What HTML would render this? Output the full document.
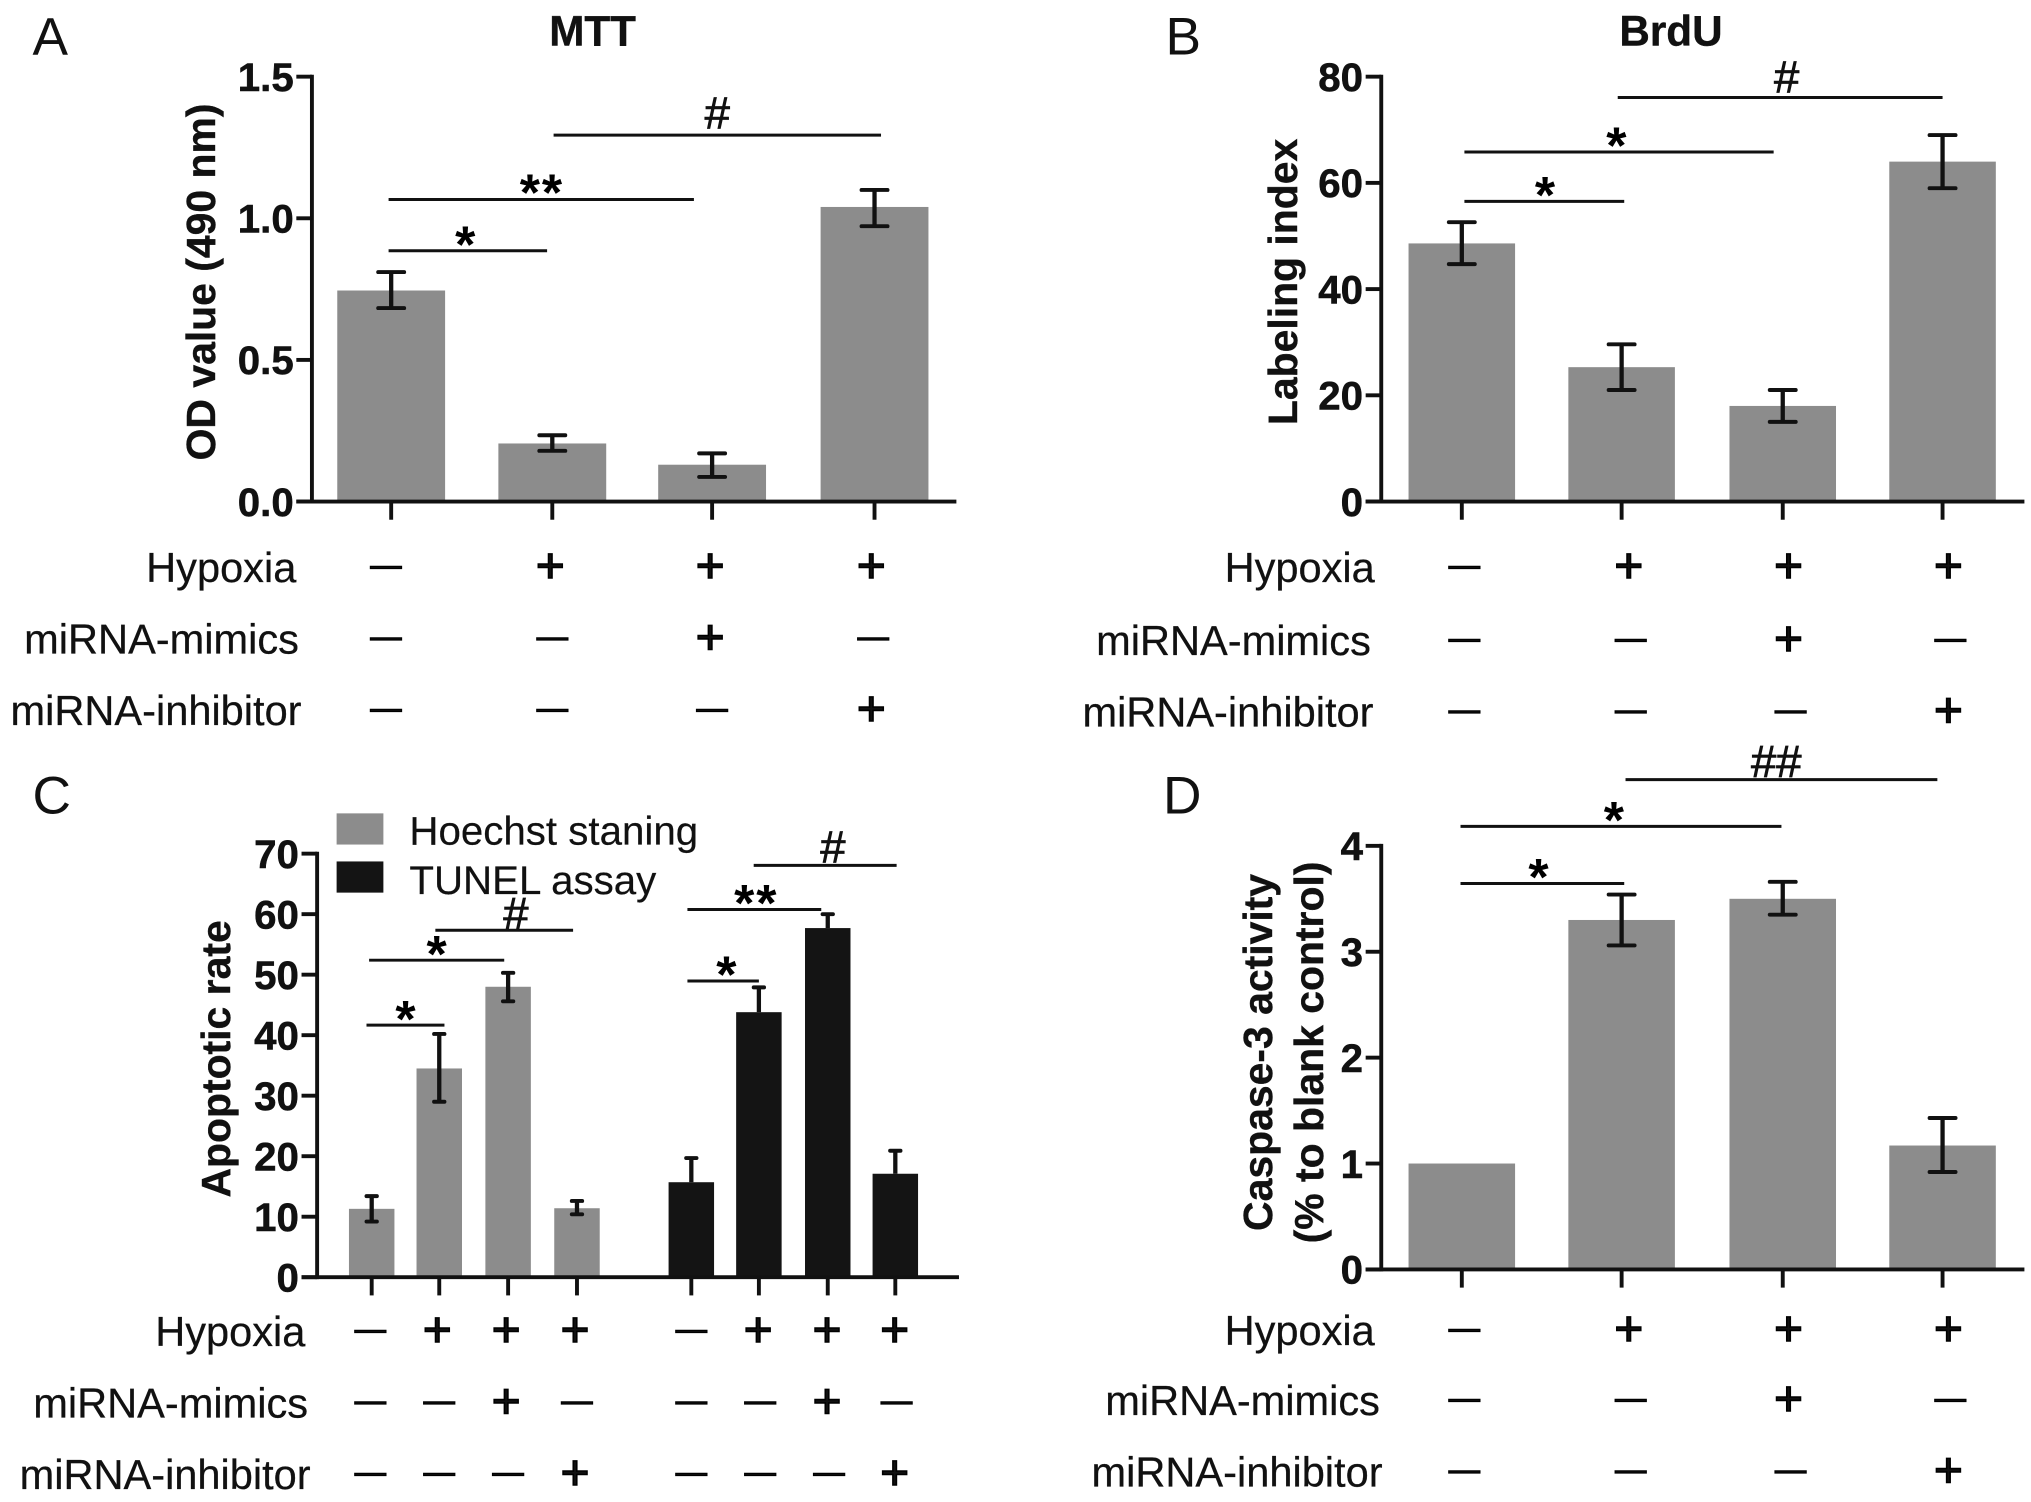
<!DOCTYPE html>
<html>
<head>
<meta charset="utf-8">
<title>MTT, BrdU, apoptosis and caspase-3 panels</title>
<style>
html,body{margin:0;padding:0;background:#fff}
svg{display:block}
text{font-family:"Liberation Sans",sans-serif;fill:#111}
.tick{font-weight:700;font-size:31px;text-anchor:end;stroke:#111;stroke-width:.4}
.ylab{font-weight:700;font-size:31.5px;text-anchor:middle;stroke:#111;stroke-width:.3}
.title{font-weight:700;font-size:32.5px;text-anchor:middle;stroke:#111;stroke-width:.3}
.letter{font-size:41px}
.row{font-size:32px;text-anchor:end;stroke:#111;stroke-width:.2}
.legend{font-size:31px;stroke:#111;stroke-width:.15}
.sig{font-size:35px;text-anchor:middle;stroke:#111;stroke-width:.6}
.star{font-size:40px;font-weight:700;text-anchor:middle;fill:#000;transform:translateY(-3px)}
.lin{stroke:#111;stroke-width:2.3}
</style>
</head>
<body>
<svg id="figure" xmlns="http://www.w3.org/2000/svg" width="2031" height="1502" viewBox="0 0 1563 1156">
  <text class="letter" x="25" y="42">A</text>
  <text class="letter" x="897" y="42">B</text>
  <text class="letter" x="25" y="626">C</text>
  <text class="letter" x="895" y="626">D</text>
  <text class="title" x="456" y="35">MTT</text>
  <text class="title" x="1286" y="35">BrdU</text>
  <text class="ylab" transform="translate(165.5,217) rotate(-90)">OD value (490 nm)</text>
  <text class="ylab" transform="translate(998,217) rotate(-90)">Labeling index</text>
  <text class="ylab" transform="translate(177,815) rotate(-90)">Apoptotic rate</text>
  <text class="ylab" transform="translate(979,810) rotate(-90)">Caspase-3 activity</text>
  <text class="ylab" transform="translate(1018,810) rotate(-90)">(% to blank control)</text>

  <g>
    <line class="lin" x1="299" x2="421" y1="193" y2="193"/>
    <text class="star" x="358" y="205">*</text>
    <line class="lin" x1="299" x2="534" y1="153.5" y2="153.5"/>
    <text class="star" x="417" y="165" letter-spacing="1.5">**</text>
    <line class="lin" x1="426" x2="678" y1="104" y2="104"/>
    <text class="sig" x="552" y="99">#</text>
  </g>
  <g>
    <line class="lin" x1="1127" x2="1250" y1="155" y2="155"/>
    <text class="star" x="1189" y="167">*</text>
    <line class="lin" x1="1127" x2="1365" y1="117" y2="117"/>
    <text class="star" x="1244" y="129">*</text>
    <line class="lin" x1="1245" x2="1495" y1="75" y2="75"/>
    <text class="sig" x="1375" y="71">#</text>
  </g>
  <g>
    <line class="lin" x1="282" x2="342" y1="789" y2="789"/>
    <text class="star" x="312" y="801">*</text>
    <line class="lin" x1="284" x2="388" y1="739" y2="739"/>
    <text class="star" x="336" y="751">*</text>
    <line class="lin" x1="335" x2="441" y1="716" y2="716"/>
    <text class="sig" x="397" y="715">#</text>
    <line class="lin" x1="529" x2="584" y1="755" y2="755"/>
    <text class="star" x="559" y="767">*</text>
    <line class="lin" x1="529" x2="632" y1="700" y2="700"/>
    <text class="star" x="582" y="712" letter-spacing="1.5">**</text>
    <line class="lin" x1="580" x2="690" y1="666" y2="666"/>
    <text class="sig" x="641" y="664">#</text>
  </g>
  <g>
    <line class="lin" x1="1124" x2="1250" y1="680" y2="680"/>
    <text class="star" x="1184" y="692">*</text>
    <line class="lin" x1="1124" x2="1371" y1="636" y2="636"/>
    <text class="star" x="1242" y="648">*</text>
    <line class="lin" x1="1251" x2="1491" y1="600" y2="600"/>
    <text class="sig" x="1367" y="598">##</text>
  </g>

  <g>
    <rect x="259" y="626" width="36" height="24" fill="#8c8c8c"/>
    <text class="legend" x="315" y="650">Hoechst staning</text>
    <rect x="259" y="663" width="36" height="24" fill="#141414"/>
    <text class="legend" x="315" y="688">TUNEL assay</text>
  </g>
</svg>

<script>
// Panel A: MTT
var mttValues = [0.745, 0.205, 0.13, 1.04];
var mttUpper = [0.81, 0.234, 0.17, 1.10];
var mttLower = [0.683, 0.179, 0.087, 0.972];
var mttTicks = ["0.0", "0.5", "1.0", "1.5"];
var mttTickValues = [0, 0.5, 1, 1.5];
// Panel B: BrdU
var brduValues = [48.6, 25.3, 18, 64];
var brduUpper = [52.6, 29.6, 21, 69];
var brduLower = [44.7, 21, 15, 59];
var brduTicks = ["0", "20", "40", "60", "80"];
var brduTickValues = [0, 20, 40, 60, 80];
// Panel C: apoptotic rate
var hoechstValues = [11.3, 34.5, 48, 11.4];
var hoechstUpper = [13.4, 40.2, 50.3, 12.6];
var hoechstLower = [9.2, 29, 45.6, 10.4];
var tunelValues = [15.7, 43.8, 57.7, 17.1];
var tunelUpper = [19.7, 47.9, 60, 20.9];
var apoptosisTicks = ["0", "10", "20", "30", "40", "50", "60", "70"];
var apoptosisTickValues = [0, 10, 20, 30, 40, 50, 60, 70];
// Panel D: caspase-3
var caspaseValues = [1, 3.3, 3.5, 1.17];
var caspaseUpper = [null, 3.54, 3.66, 1.43];
var caspaseLower = [null, 3.06, 3.35, 0.92];
var caspaseTicks = ["0", "1", "2", "3", "4"];
var caspaseTickValues = [0, 1, 2, 3, 4];
// Treatment table
var rowNames = ["Hypoxia", "miRNA-mimics", "miRNA-inhibitor"];
var hypoxiaSigns = ["-", "+", "+", "+"];
var mimicsSigns = ["-", "-", "+", "-"];
var inhibitorSigns = ["-", "-", "-", "+"];

var svg = document.getElementById('figure');
var NS = 'http://www.w3.org/2000/svg';
var GRAY = '#8c8c8c', BLACK = '#141414', INK = '#111';

function make(tag, attrs, parent) {
  var el = document.createElementNS(NS, tag);
  for (var k in attrs) el.setAttribute(k, attrs[k]);
  parent.appendChild(el);
  return el;
}

function drawAxes(p, g) {
  var yAxis = make('line', {x1: p.left, x2: p.left, y1: p.yTop - 1.5, y2: p.yBase + 1.5, stroke: INK, 'stroke-width': 3}, g);
  
  
  var xAxis = make('line', {x1: p.left - 12, x2: p.right, y1: p.yBase, y2: p.yBase, stroke: INK, 'stroke-width': 3}, g);
  
  
  p.tickValues.forEach(function (v, i) {
    var y = p.yScale(v);
    var t = make('line', {x1: p.left - 12, x2: p.left, y1: y, y2: y, stroke: INK, 'stroke-width': 3}, g);
    
    
    var lab = make('text', {'class': 'tick', x: p.left - 14, y: y + 11}, g);
    lab.textContent = p.tickLabels[i];
    
    
  });
}

function drawBars(p, g, centers, values, upper, lower, color, barName) {
  values.forEach(function (v, i) {
    var cx = centers[i];
    var y = p.yScale(v);
    var bar = make('rect', {x: cx - p.barW / 2, y: y, width: p.barW, height: p.yBase - y, fill: color}, g);
    
    
    var tick = make('line', {x1: cx, x2: cx, y1: p.yBase, y2: p.yBase + 14, stroke: INK, 'stroke-width': 3}, g);
    
    
    if (upper && upper[i] != null) {
      var top = p.yScale(upper[i]);
      var hasLow = lower && lower[i] != null;
      var bot = hasLow ? p.yScale(lower[i]) : y;
      var stem = make('line', {x1: cx, x2: cx, y1: top, y2: bot, stroke: INK, 'stroke-width': 3.3}, g);
      
      
      var capTop = make('line', {x1: cx - p.cap, x2: cx + p.cap, y1: top, y2: top, stroke: INK, 'stroke-width': 3, 'stroke-linecap': 'round'}, g);
      
      
      if (hasLow) {
        var capBot = make('line', {x1: cx - p.cap, x2: cx + p.cap, y1: bot, y2: bot, stroke: INK, 'stroke-width': 3, 'stroke-linecap': 'round'}, g);
        
        
      }
    }
  });
}

function drawTable(p, g) {
  var rows = [hypoxiaSigns, mimicsSigns, inhibitorSigns];
  rows.forEach(function (signs, r) {
    var label = make('text', {'class': 'row', x: p.rowRight[r], y: p.rowY[r] + 11}, g);
    label.textContent = rowNames[r];
    
    
    p.signX.forEach(function (x, i) {
      var s = signs[i % signs.length];
      var t;
      if (s === '+') {
        t = make('text', {x: x - 1.5, y: p.rowY[r] + 11.5, 'text-anchor': 'middle', 'font-size': 38, stroke: '#000', 'stroke-width': 1.2, fill: '#000'}, g);
        t.textContent = '+';
      } else {
        t = make('text', {x: x, y: p.rowY[r] + 6, 'text-anchor': 'middle', 'font-size': 24, stroke: '#000', 'stroke-width': 0.9, fill: '#000'}, g);
        t.textContent = '\u2014';
      }
      
      
    });
  });
}

function scale(yBase, yTop, max) {
  return function (v) { return yBase - (v / max) * (yBase - yTop); };
}

var panels = [
  {id: 'panel-a', left: 240, right: 736, yBase: 386, yTop: 59, max: 1.5, barW: 83, cap: 10,
   tickValues: mttTickValues, tickLabels: mttTicks,
   signX: [297, 425, 548, 672], rowY: [437, 492, 547], rowRight: [228, 230, 232],
   series: [{centers: [301, 425, 548, 673], v: mttValues, u: mttUpper, l: mttLower, c: GRAY, n: 'mtt'}]},
  {id: 'panel-b', left: 1063, right: 1558, yBase: 386, yTop: 59, max: 80, barW: 82, cap: 10,
   tickValues: brduTickValues, tickLabels: brduTicks,
   signX: [1127, 1255, 1378, 1501], rowY: [437, 493, 548], rowRight: [1058, 1055, 1057],
   series: [{centers: [1125, 1248, 1372, 1495], v: brduValues, u: brduUpper, l: brduLower, c: GRAY, n: 'brdu'}]},
  {id: 'panel-c', left: 244, right: 738, yBase: 983, yTop: 657, max: 70, barW: 35, cap: 4,
   tickValues: apoptosisTickValues, tickLabels: apoptosisTicks,
   signX: [285, 338, 391, 444, 532, 585, 638, 690], rowY: [1025, 1080, 1135], rowRight: [235, 237, 239],
   series: [{centers: [286, 338, 391, 444], v: hoechstValues, u: hoechstUpper, l: hoechstLower, c: GRAY, n: 'hoechst'},
            {centers: [532, 584, 637, 689], v: tunelValues, u: tunelUpper, l: null, c: BLACK, n: 'tunel'}]},
  {id: 'panel-d', left: 1063, right: 1558, yBase: 977, yTop: 651, max: 4, barW: 82, cap: 10,
   tickValues: caspaseTickValues, tickLabels: caspaseTicks,
   signX: [1127, 1255, 1378, 1501], rowY: [1024, 1078, 1133], rowRight: [1058, 1062, 1064],
   series: [{centers: [1125, 1248, 1372, 1495], v: caspaseValues, u: caspaseUpper, l: caspaseLower, c: GRAY, n: 'caspase'}]}
];

panels.forEach(function (p) {
  p.yScale = scale(p.yBase, p.yTop, p.max);
  var g = make('g', {}, svg);
  
  
  p.series.forEach(function (s) {
    drawBars(p, g, s.centers, s.v, s.u, s.l, s.c, s.n);
  });
  drawAxes(p, g);
  drawTable(p, g);
});
</script>
</body>
</html>
